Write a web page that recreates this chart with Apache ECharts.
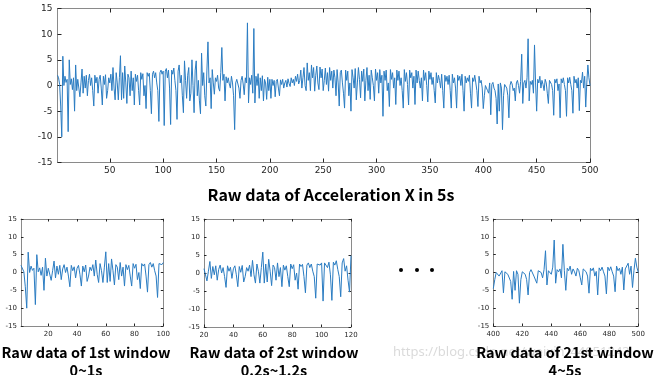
<!DOCTYPE html>
<html>
<head>
<meta charset="utf-8">
<title>Raw data of Acceleration X in 5s</title>
<script src="https://cdn.jsdelivr.net/npm/echarts@6/dist/echarts.min.js"></script>
<style>
  html, body { margin: 0; padding: 0; background: #fff; }
  #main { width: 655px; height: 375px; }
</style>
</head>
<body>
<div id="main"></div>
<script>
// acceleration X, samples 1..500 (100 samples per second)
var accX_0_1s = [
  2, 1.5, 0.2, -4, -10, 5.7, 0, 1.8, 0.6, 1.2,
  -9, 5, 0.2, 1.3, -0.8, 1.5, -5, 4, -1, 1.2,
  1.5, -2.2, 0.5, 3.2, -1.5, 1.8, -0.5, 2, -2, 1,
  2.2, 0, 1.5, -1, -4, 2, 0.5, 1.6, -1.5, 1.2,
  2, -0.5, -3.8, 1.8, 0.2, 2.1, -2.5, -1, 1.5, 0.5,
  2.2, -1, 3.5, -0.5, -2.8, 2.5, 0.5, -2.8, 1.5, 5.8,
  -2.8, 2.5, -2.5, 3.8, 0.5, -3.5, 2.2, 1.5, -2, 2.8,
  -1, 1.5, -3.8, 2.2, 0.8, 2, -1, -3.8, 2.5, 1.2,
  2.3, -2, 0, -4.5, 2.5, 1.8, 2.4, -1, -5.5, 2.2,
  2.8, 1.5, 2.5, 0.5, -1, -7, 2.5, 3, 2.2, 2.8
];
var accX_1_2s = [
  -7.8, 2.8, 3.3, 1.5, 3, -0.5, -7.6, 3, 2.2, 3.4,
  1, -1, -6.6, 2.8, 4, 0.5, 2, -2, -5.3, 4.8,
  1, -2.5, 2, 3.5, -3, -1.5, 5, 0, -5.3, 3,
  4.8, -2, 1, -3, -5.5, 6.3, 0, 2.5, -2, -4,
  3, 8.5, 0.5, 1.5, -4.5, 3.1, 0.5, -1.7, 1.5, 0.8,
  2, -0.5, -1.1, 2.5, 7.4, 1, 2.2, -3, 1.7, 0.5,
  1.5, 0.3, -0.5, 1.8, 0.5, -2, -8.6, 0.5, 1.2, 1.5,
  -0.5, -2.5, 1, 1.8, 0.3, -1.8, 1.5, 0.5, 12.2, -3.4,
  1.5, 0.2, 2, -1.5, 11.1, -3.4, 1.8, 0, 2.3, -2.5,
  1.5, -1, 1.9, -3, 1.2, 0.5, -2.7, 1.6, -1, 1.2
];
var accX_2_3s = [
  -2.5, 1.2, 0, 1, -2.2, 0.8, 1.2, -0.5, -2, 1.1,
  0.2, 1.2, -0.5, 0.5, 1, -0.3, 1.3, 0.4, -0.2, 1.5,
  0.5, 1.2, 0, 1.8, 0.8, 2.2, 0.3, 1, 3, -0.5,
  1.5, 3.5, 0, -1, 4.4, 1, 2.5, -1, 4, 1.5,
  3.5, -1.1, 2, 3.8, 0.5, -0.8, 3.6, 1.5, 3.2, -1,
  1, 3.4, 0.2, 2.5, -1.1, 3.5, 1, 2.8, -0.5, 3,
  1.5, -2, 3.1, 0.5, -4, 2.5, 3, 0.5, -1.5, -4.4,
  3, 1, 2.8, -2, 0.5, -5, 3.1, 1.5, -0.5, 3.3,
  -2.8, 0.5, 3.5, 1.2, -2.4, 2.8, 0.8, 3.2, -3, 1,
  3.5, -1, 2, -2.7, 3, 1.5, 0, -3, 3.2, 1
];
var accX_3_4s = [
  2.5, -1.5, 3.1, 0.5, 2, -6, 2.8, 1, 3, -1,
  0.5, -4.1, 3.1, 1.2, 2.5, -0.5, 1.5, -3.7, 3, 1,
  2.8, 0, 1.5, -1, -4.4, 3.1, 0.8, 2.5, 0.2, -3.8,
  3, 1.5, 2.5, -0.5, 1.8, -3.7, 3, 0.5, 2.8, 1,
  -0.5, 1.5, -3, 3, 1, 2.5, 0, -3.2, 2.8, 1.2,
  2.5, 0.2, 1.6, -1, -3.4, 2.5, 0.5, 2, 1, -0.5,
  2.2, -1, -4.4, 2, 0.8, 1.8, 0.2, 2, -1, -4.4,
  2.2, 0.5, 1.5, -0.5, -4.4, 2, 1, 1.8, 0, 2.2,
  -1, -5, 1.8, 0.5, 1.5, 0.8, 2, -1.5, -4.4, 1.5,
  0.8, 2, 0.5, -1, -4.1, 1.8, 0.5, 1, -0.5, -4.5
];
var accX_4_5s = [
  -2, 0, 0.3, -1, -1.5, 0.5, -5.7, 0.2, 0.6, -0.5,
  -1, -2.5, -7.5, 0.3, -5, 0.5, -0.5, -8.6, -2, 0.2,
  0.5, -0.5, -2, -6.3, 0, 0.8, 0.3, -1, -0.5, -3,
  0.5, 1, 0, -1.5, 0.8, 6.1, -3.5, 0.5, 1, -0.5,
  1.5, 9.1, -3, 0.8, 0.2, 1, -1.5, 7.9, 0.5, -5,
  1.2, 0.5, 1.8, -0.5, 1, 0.2, -1, 1.2, 0.5, -1.5,
  -3.5, 1, 1.2, 0.2, -1, -5.8, 1.2, 0.5, 1.3, -1,
  0.3, -6.3, 1.3, 0.5, 1.5, 0.2, -1, -6, 1.5, 0.5,
  1.6, 0.2, -1, -5.4, 1.8, 0.5, 1.2, -0.5, 1.5, -4.9,
  1, 0.5, 2.6, -0.5, 1.8, -4.2, 0.5, 4, 1.5, 0
];

var mainTitle = "Raw data of Acceleration X in 5s";
var yTicks = [-15, -10, -5, 0, 5, 10, 15];
var mainXTicks = [50, 100, 150, 200, 250, 300, 350, 400, 450, 500];

// the three windows shown underneath
var winNames = ["Raw data of 1st window", "Raw data of 2st window", "Raw data of 21st window"];
var winTimes = ["0~1s", "0.2s~1.2s", "4~5s"];
var winFrom = [1, 20, 400];
var winTo = [100, 120, 500];
var winXTicks = [
  [20, 40, 60, 80, 100],
  [20, 40, 60, 80, 100, 120],
  [400, 420, 440, 460, 480, 500]
];

var page = {
  init: function() {
    page.accX = accX_0_1s.concat(accX_1_2s, accX_2_3s, accX_3_4s, accX_4_5s);
    page.chart();
  },
  points: function(from, to) {
    var pts = [];
    for (var i = from; i <= to; i++) {
      pts.push([i, page.accX[i - 1]]);
    }
    return pts;
  },
  axes: function(opt, gi, xMin, xMax, xTicks, fontSize, tickLen, xMargin, yMargin) {
    var box = { show: true, onZero: false, lineStyle: { color: "#8a8a8a", width: 1 } };
    var tick = { show: true, inside: true, length: tickLen, lineStyle: { color: "#262626" } };
    var lbl = { fontFamily: "DejaVu Sans", fontSize: fontSize, color: "#262626" };
    var xTick = Object.assign({}, tick, { customValues: xTicks });
    var yTick = Object.assign({}, tick, { customValues: yTicks });
    opt.xAxis.push({
      gridIndex: gi, type: "value", position: "bottom", min: xMin, max: xMax,
      axisLine: box, axisTick: xTick, splitLine: { show: false },
      axisLabel: Object.assign({ margin: xMargin, customValues: xTicks }, lbl)
    });
    opt.xAxis.push({
      gridIndex: gi, type: "value", position: "top", min: xMin, max: xMax,
      axisLine: box, axisTick: xTick, splitLine: { show: false },
      axisLabel: { show: false }
    });
    opt.yAxis.push({
      gridIndex: gi, type: "value", position: "left", min: -15, max: 15,
      axisLine: box, axisTick: yTick, splitLine: { show: false },
      axisLabel: Object.assign({ margin: yMargin, customValues: yTicks }, lbl)
    });
    opt.yAxis.push({
      gridIndex: gi, type: "value", position: "right", min: -15, max: 15,
      axisLine: box, axisTick: yTick, splitLine: { show: false },
      axisLabel: { show: false }
    });
  },
  series: function(gi, data) {
    return {
      type: "line", xAxisIndex: gi * 2, yAxisIndex: gi * 2, data: data,
      showSymbol: false, symbol: "none", silent: true,
      lineStyle: { color: "#2a7cc2", width: 1 }
    };
  },
  chart: function() {
    var myChart = echarts.init(document.getElementById("main"));
    var titleFont = 'bold 16px "Noto Sans CJK SC"';
    var winFont = 'bold 14.5px "Noto Sans CJK SC"';
    var option = {
      animation: false,
      backgroundColor: "#fff",
      grid: [
        { left: 57.5, top: 8.5, width: 532.5, height: 154 },
        { left: 21, top: 219, width: 142.3, height: 107 },
        { left: 204, top: 219, width: 147, height: 108 },
        { left: 493.3, top: 219, width: 145, height: 107 }
      ],
      xAxis: [],
      yAxis: [],
      series: [],
      graphic: [
        {
          type: "text", x: 393, y: 352,
          style: { text: "https://blog.csdn.net/weixin_44051243", font: '13px "Noto Sans"', fill: "rgba(150,150,150,0.35)", textVerticalAlign: "middle" }
        },
        {
          type: "text", x: 331, y: 195,
          style: { text: mainTitle, font: titleFont, fill: "#000", textAlign: "center", textVerticalAlign: "middle" }
        },
        { type: "circle", shape: { cx: 401, cy: 270, r: 2 }, style: { fill: "#000" } },
        { type: "circle", shape: { cx: 417, cy: 270, r: 2 }, style: { fill: "#000" } },
        { type: "circle", shape: { cx: 432, cy: 270, r: 2 }, style: { fill: "#000" } }
      ]
    };

    page.axes(option, 0, 1, 500, mainXTicks, 9, 4, 4, 5);
    option.series.push(page.series(0, page.points(1, 500)));

    var centers = [86, 274, 565];
    for (var w = 0; w < 3; w++) {
      page.axes(option, w + 1, winFrom[w], winTo[w], winXTicks[w], 7, 2.5, 5, 4);
      option.series.push(page.series(w + 1, page.points(winFrom[w], winTo[w])));
      option.graphic.push({
        type: "text", x: centers[w], y: 352,
        style: { text: winNames[w], font: winFont, fill: "#000", textAlign: "center", textVerticalAlign: "middle" }
      });
      option.graphic.push({
        type: "text", x: centers[w], y: 370,
        style: { text: winTimes[w], font: winFont, fill: "#000", textAlign: "center", textVerticalAlign: "middle" }
      });
    }

    myChart.setOption(option);
  }
};

page.init();
</script>
</body>
</html>
